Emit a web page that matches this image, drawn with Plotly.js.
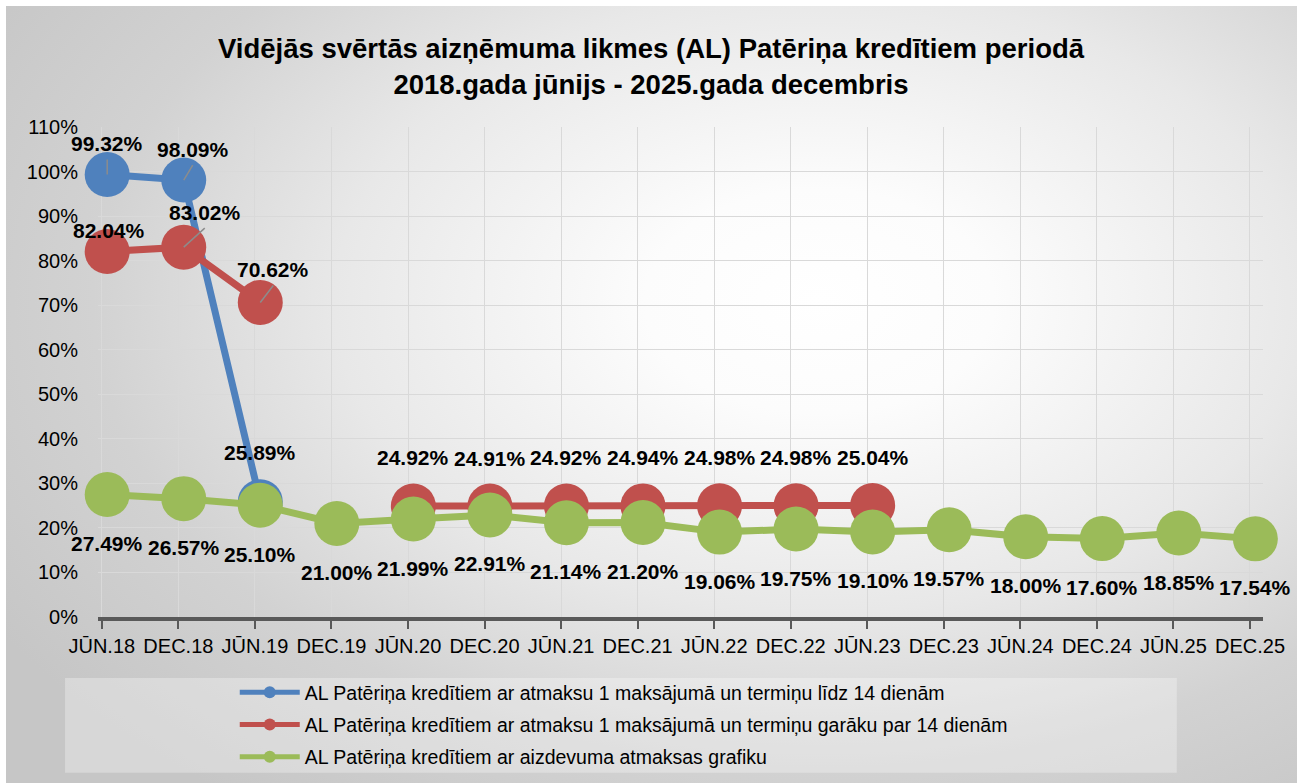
<!DOCTYPE html>
<html><head><meta charset="utf-8">
<script src="https://cdn.plot.ly/plotly-3.0.1.min.js"></script>
<style>
html,body{margin:0;padding:0;background:#fff;}
#bg{position:absolute;left:6px;top:6px;width:1291px;height:777px;
 background:radial-gradient(ellipse 75% 80% at 63% 38%, #ffffff 0%, #fcfcfc 18%, #e8e8e8 50%, #d2d2d2 75%, #c6c6c6 100%);}
#chart{position:absolute;left:0;top:0;width:1302px;height:783px;}
</style></head><body>
<div id="bg"></div><div id="chart"></div>
<script>
const categories = ["JŪN.18","DEC.18","JŪN.19","DEC.19","JŪN.20","DEC.20","JŪN.21","DEC.21","JŪN.22","DEC.22","JŪN.23","DEC.23","JŪN.24","DEC.24","JŪN.25","DEC.25"];
const seriesNames = [
  "AL Patēriņa kredītiem ar atmaksu 1 maksājumā un termiņu līdz 14 dienām",
  "AL Patēriņa kredītiem ar atmaksu 1 maksājumā un termiņu garāku par 14 dienām",
  "AL Patēriņa kredītiem ar aizdevuma atmaksas grafiku"
];
const shortTerm = [99.32, 98.09, 25.89, null, null, null, null, null, null, null, null, null, null, null, null, null];
const longTerm  = [82.04, 83.02, 70.62, null, 24.92, 24.91, 24.92, 24.94, 24.98, 24.98, 25.04, null, null, null, null, null];
const schedule  = [27.49, 26.57, 25.10, 21.00, 21.99, 22.91, 21.14, 21.20, 19.06, 19.75, 19.10, 19.57, 18.00, 17.60, 18.85, 17.54];
const yTicks = [0,10,20,30,40,50,60,70,80,90,100,110];

// styling
const colors = ["#4F81BD", "#C0504D", "#9BBB59"];
const FONT = "Liberation Sans, Arial, sans-serif";
const seriesData = [shortTerm, longTerm, schedule];
const defaultLabelShift = [48, 48, -49];          // px, vertical label offset per series
const labelNudge = {"0-0": [0, 31], "0-1": [9, 31], "0-2": [0, 49],
                    "1-0": [2, 21], "1-1": [21, 35], "1-2": [13, 33]}; // manual label moves (px)
const leaderLines = ["0-0", "0-1", "1-1", "1-2"];
const XR = [-0.05, 15.17];
const markerOffset = 0.07; // markers sit slightly right of the tick marks

// invisible trace that carries the visible category axis (grid, ticks, labels)
const axisCarrier = {
  type: "scatter", mode: "markers", x: categories, y: categories.map(() => null),
  xaxis: "x", yaxis: "y", showlegend: false, hoverinfo: "skip",
  marker: {opacity: 0}
};

const traces = [axisCarrier].concat(seriesData.map((vals, i) => ({
  type: "scatter", mode: "lines+markers", name: seriesNames[i],
  x: categories, y: vals, xaxis: "x2", yaxis: "y",
  connectgaps: false, cliponaxis: false,
  legendgroup: "g" + i,
  line: {color: colors[i], width: 7},
  marker: {color: colors[i], size: 45}
})));

const annotations = [];
const shapes = [{
  type: "rect", xref: "paper", yref: "paper", layer: "below",
  x0: -0.0283, x1: 0.926, y0: -0.318, y1: -0.1245,
  fillcolor: "rgba(255,255,255,0.3)", line: {width: 0}
}];
seriesData.forEach((vals, i) => {
  vals.forEach((v, j) => {
    if (v === null) return;
    const key = i + "-" + j;
    const n = labelNudge[key] || [0, defaultLabelShift[i]];
    annotations.push({
      x: categories[j], y: v, xref: "x2", yref: "y",
      text: v.toFixed(2) + "%", showarrow: false, xshift: n[0], yshift: n[1],
      font: {family: FONT, size: 21, color: "#000", weight: "bold"}
    });
    if (leaderLines.includes(key)) {
      shapes.push({
        type: "line", xref: "x2", yref: "y",
        xsizemode: "pixel", ysizemode: "pixel",
        xanchor: categories[j], yanchor: v,
        x0: 0, y0: 0, x1: n[0], y1: n[1] - 16,
        line: {color: "#8c8c8c", width: 1.5}
      });
    }
  });
});

const axisCommon = {
  type: "category", categoryorder: "array", categoryarray: categories, fixedrange: true
};

const layout = {
  width: 1302, height: 783,
  paper_bgcolor: "rgba(0,0,0,0)", plot_bgcolor: "rgba(0,0,0,0)",
  margin: {l: 98, r: 39, t: 127, b: 166, autoexpand: false},
  title: {
    text: "<b>Vidējās svērtās aizņēmuma likmes (AL) Patēriņa kredītiem periodā<br>2018.gada jūnijs - 2025.gada decembris</b>",
    font: {family: FONT, size: 27.5, color: "#000"},
    x: 0.5, xref: "container", xanchor: "center",
    y: 1 - 58/783, yref: "container", yanchor: "top"
  },
  xaxis: Object.assign({}, axisCommon, {
    range: XR, automargin: false,
    showgrid: true, gridcolor: "#d9d9d9", gridwidth: 1,
    showline: true, linecolor: "#595959", linewidth: 4,
    ticks: "outside", ticklen: 8, tickwidth: 2, tickcolor: "#595959",
    ticklabelstandoff: 0,
    tickfont: {family: FONT, size: 20, color: "#000"},
    zeroline: false
  }),
  xaxis2: Object.assign({}, axisCommon, {
    overlaying: "x", range: [XR[0] - markerOffset, XR[1] - markerOffset],
    visible: false, showgrid: false, zeroline: false
  }),
  yaxis: {
    range: [0, 110], tickvals: yTicks, ticktext: yTicks.map(t => t + "%"),
    automargin: false,
    showgrid: true, gridcolor: "#d9d9d9", gridwidth: 1,
    showline: false, zeroline: false, ticks: "",
    ticklabelstandoff: 19,
    tickfont: {family: FONT, size: 20, color: "#000"},
    fixedrange: true
  },
  showlegend: true,
  legend: {
    orientation: "v", xref: "container", yref: "container",
    x: 0.1803, xanchor: "left", y: 0.1405, yanchor: "top",
    bgcolor: "rgba(0,0,0,0)", traceorder: "grouped", tracegroupgap: 4,
    itemsizing: "constant", itemwidth: 60,
    font: {family: FONT, size: 19.5, color: "#000"}
  },
  shapes: shapes,
  annotations: annotations
};

Plotly.newPlot("chart", traces, layout, {displayModeBar: false, staticPlot: true});
</script>
</body></html>
